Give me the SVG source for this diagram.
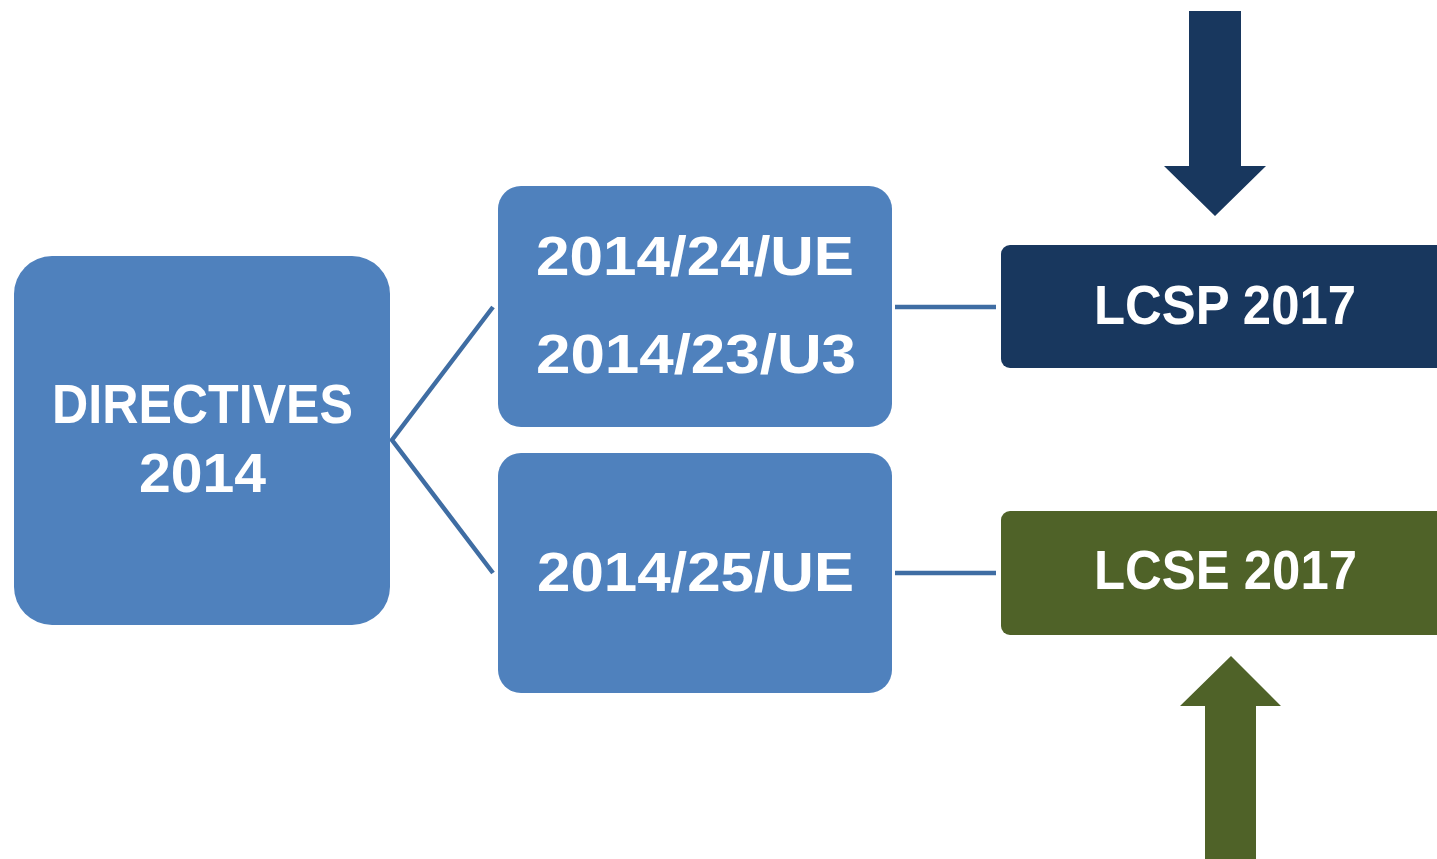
<svg xmlns="http://www.w3.org/2000/svg" width="1437" height="859" viewBox="0 0 1437 859">
<style>
.t{font-family:"Liberation Sans",Arial,sans-serif;font-weight:bold;font-size:56px;fill:#fff}
.blue{fill:#4F81BD}
.conn{stroke:#3F6DA3;stroke-width:4.5;fill:none}
.navy{fill:#18375E}
.olive{fill:#4F6228}
</style>
<rect width="1437" height="859" fill="#fff"/>
<g id="connectors">
<polyline class="conn" points="493,307 392,440 493,573"/>
<line class="conn" x1="895" y1="307" x2="996" y2="307" stroke-width="5"/>
<line class="conn" x1="895" y1="573" x2="996" y2="573" stroke-width="5"/>
</g>
<g id="directives">
<rect class="blue" x="14" y="256" width="376" height="369" rx="38"/>
<text class="t" x="52" y="423" textLength="301" lengthAdjust="spacingAndGlyphs">DIRECTIVES</text>
<text class="t" x="139" y="492" textLength="127" lengthAdjust="spacingAndGlyphs">2014</text>
</g>
<g id="dir24">
<rect class="blue" x="498" y="186" width="394" height="241" rx="23"/>
<text class="t" x="536" y="275" textLength="318" lengthAdjust="spacingAndGlyphs">2014/24/UE</text>
<text class="t" x="536" y="373" textLength="320" lengthAdjust="spacingAndGlyphs">2014/23/U3</text>
</g>
<g id="dir25">
<rect class="blue" x="498" y="453" width="394" height="240" rx="23"/>
<text class="t" x="537" y="591" textLength="317" lengthAdjust="spacingAndGlyphs">2014/25/UE</text>
</g>
<g id="lcsp">
<rect class="navy" x="1001" y="245" width="460" height="123" rx="9"/>
<text class="t" x="1094" y="324" textLength="262" lengthAdjust="spacingAndGlyphs">LCSP 2017</text>
</g>
<g id="lcse">
<rect class="olive" x="1001" y="511" width="460" height="124" rx="9"/>
<text class="t" x="1094" y="589" textLength="263" lengthAdjust="spacingAndGlyphs">LCSE 2017</text>
</g>
<g id="arrow-down">
<polygon class="navy" points="1189,11 1241,11 1241,166 1266,166 1215,216 1164,166 1189,166"/>
</g>
<g id="arrow-up">
<polygon class="olive" points="1231,656 1281,706 1256,706 1256,859 1205,859 1205,706 1180,706"/>
</g>
</svg>
